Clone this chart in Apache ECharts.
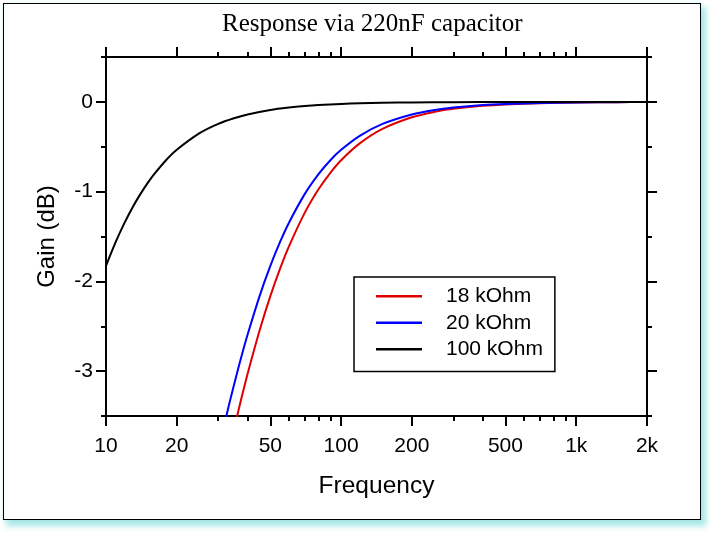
<!DOCTYPE html>
<html>
<head>
<meta charset="utf-8">
<script src="https://cdn.jsdelivr.net/npm/echarts@6/dist/echarts.min.js"></script>
<style>
  html, body { margin: 0; padding: 0; background: #ffffff; }
  #frame {
    position: absolute; left: 3px; top: 3px; width: 696px; height: 515px;
    border: 1px solid #000; background: #fff;
    box-shadow: 4px 5px 6px 1px #a6e6e6, 0 0 3px #d6f8f8;
  }
  #chart { position: absolute; left: 0; top: 0; width: 712px; height: 545px; }
</style>
</head>
<body>
<div id="frame"></div>
<div id="chart"></div>
<script>
// ---- data ----
const titleText = 'Response via 220nF capacitor';
const seriesNames = ['18 kOhm', '20 kOhm', '100 kOhm'];
const seriesColors = ['#e00000', '#0000ff', '#000000'];

const freqHi = [30, 32, 34, 36, 38, 40, 45, 50, 55, 60, 70, 80, 90, 100, 120, 150, 200, 250, 300, 400, 500, 700, 1000, 1500, 2000];
const gain18k = [-4.463, -4.112, -3.797, -3.515, -3.261, -3.031, -2.547, -2.164, -1.858, -1.610, -1.237, -0.977, -0.790, -0.650, -0.462, -0.301, -0.172, -0.111, -0.077, -0.044, -0.028, -0.014, -0.007, -0.003, -0.002];
const gain20k = [-3.898, -3.575, -3.287, -3.031, -2.801, -2.595, -2.164, -1.828, -1.561, -1.346, -1.028, -0.808, -0.650, -0.534, -0.378, -0.245, -0.140, -0.090, -0.063, -0.035, -0.023, -0.012, -0.006, -0.003, -0.001];

const freqLo = [10, 11, 12, 13, 14, 15, 16, 18, 20, 25, 30, 35, 40, 50, 60, 70, 80, 100, 120, 150, 200, 300, 500, 1000, 2000];
const gain100k = [-1.828, -1.561, -1.346, -1.171, -1.028, -0.908, -0.808, -0.650, -0.534, -0.349, -0.245, -0.182, -0.140, -0.090, -0.063, -0.046, -0.035, -0.023, -0.016, -0.010, -0.006, -0.003, -0.001, 0, 0];

const xMajorTicks = [10, 20, 50, 100, 200, 500, 1000, 2000];
const xMinorTicks = [30, 40, 60, 70, 80, 90, 300, 400, 600, 700, 800, 900];
const yMajorTicks = [-3, -2, -1, 0];
const yMinorTicks = [-3.5, -2.5, -1.5, -0.5, 0.5];

// ---- chart ----
const FONT = '"Liberation Sans", Arial, Helvetica, sans-serif';
const pairs = (xs, ys) => xs.map((x, i) => [x, ys[i]]);
const fmtX = v => (v >= 1000 ? (v / 1000) + 'k' : String(v));

function xAx(position, ticks, len, labels) {
  return {
    type: 'log', logBase: 10, min: 10, max: 2000, position: position,
    axisLine: { show: true, onZero: false, lineStyle: { color: '#000', width: 2 } },
    axisTick: { show: true, inside: false, length: len, customValues: ticks, lineStyle: { color: '#000', width: 2 } },
    axisLabel: labels ? { show: true, customValues: ticks, formatter: fmtX, margin: 20, color: '#000', fontSize: 21, fontFamily: FONT } : { show: false },
    splitLine: { show: false }, minorTick: { show: false }, minorSplitLine: { show: false }
  };
}
function yAx(position, ticks, len, labels) {
  return {
    type: 'value', min: -3.5, max: 0.5, interval: 0.5, position: position,
    axisLine: { show: true, onZero: false, lineStyle: { color: '#000', width: 2 } },
    axisTick: { show: true, inside: false, length: len, customValues: ticks, lineStyle: { color: '#000', width: 2 } },
    axisLabel: labels ? { show: true, customValues: ticks, margin: 13, color: '#000', fontSize: 21, fontFamily: FONT } : { show: false },
    splitLine: { show: false }
  };
}

const xAxes = [xAx('bottom', xMajorTicks, 10, true), xAx('bottom', xMinorTicks, 5, false), xAx('top', xMajorTicks, 10, false), xAx('top', xMinorTicks, 5, false)];
xAxes[0].name = 'Frequency';
xAxes[0].nameLocation = 'middle';
xAxes[0].nameGap = 58;
xAxes[0].nameTextStyle = { fontSize: 24.5, color: '#000', fontFamily: FONT };

const yAxes = [yAx('left', yMajorTicks, 10, true), yAx('left', yMinorTicks, 5, false), yAx('right', yMajorTicks, 10, false), yAx('right', yMinorTicks, 5, false)];
yAxes[0].name = 'Gain (dB)';
yAxes[0].nameLocation = 'middle';
yAxes[0].nameGap = 47;
yAxes[0].nameTextStyle = { fontSize: 24, color: '#000', fontFamily: FONT };

const dataSets = [pairs(freqHi, gain18k), pairs(freqHi, gain20k), pairs(freqLo, gain100k)];

const chart = echarts.init(document.getElementById('chart'), null, { renderer: 'canvas' });
chart.setOption({
  backgroundColor: 'transparent',
  animation: false,
  title: {
    text: titleText, left: 217, top: 7,
    textStyle: { fontFamily: '"Liberation Serif", "Times New Roman", serif', fontWeight: 'normal', fontSize: 25, color: '#000' }
  },
  grid: { left: 106, right: 65, top: 57, bottom: 129, containLabel: false },
  legend: {
    orient: 'vertical', left: 354, top: 277,
    data: seriesNames.map(n => ({ name: n, icon: 'rect' })),
    itemWidth: 46, itemHeight: 2.5, itemGap: 2,
    padding: [7, 12, 10, 22],
    borderColor: '#000', borderWidth: 1.5,
    textStyle: { fontSize: 21, lineHeight: 24.5, color: '#000', fontFamily: FONT, padding: [0, 0, 0, 19] }
  },
  xAxis: xAxes,
  yAxis: yAxes,
  series: seriesNames.map((n, i) => ({
    name: n, type: 'line', xAxisIndex: 0, yAxisIndex: 0,
    data: dataSets[i], smooth: 0.3, symbol: 'none', clip: true,
    lineStyle: { color: seriesColors[i], width: 2 }, itemStyle: { color: seriesColors[i] }
  }))
});
</script>
</body>
</html>
